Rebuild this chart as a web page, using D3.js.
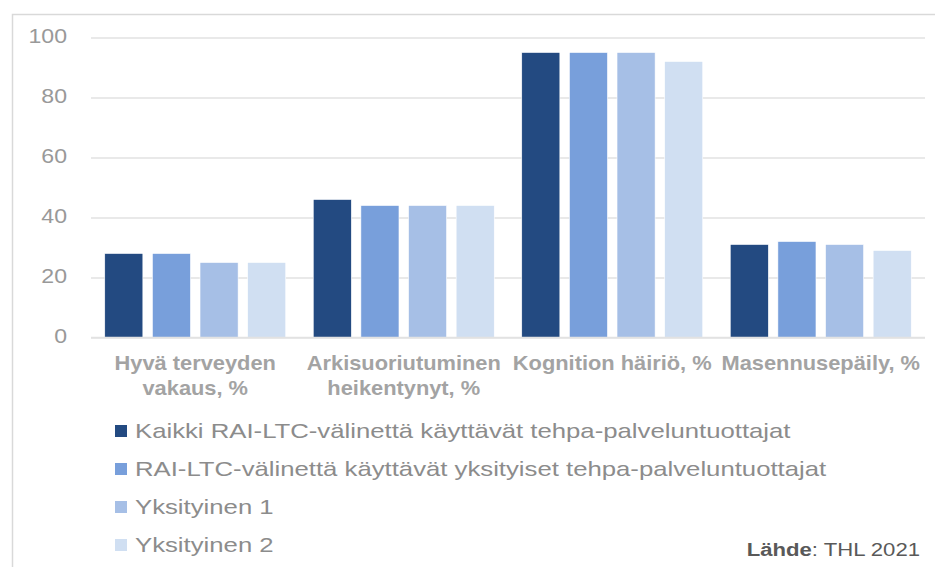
<!DOCTYPE html>
<html><head><meta charset="utf-8">
<script src="https://cdn.jsdelivr.net/npm/d3@7"></script>
<style>
html,body{margin:0;padding:0;background:#fff;}
svg{display:block;font-family:Arial,"Liberation Sans",sans-serif;}
</style></head>
<body><svg id="chart" width="935" height="567"></svg>
<script>
const categories = ["Hyvä terveyden vakaus, %", "Arkisuoriutuminen heikentynyt, %", "Kognition häiriö, %", "Masennusepäily, %"];
const categoryLines = [["Hyvä terveyden", "vakaus, %"], ["Arkisuoriutuminen", "heikentynyt, %"], ["Kognition häiriö, %"], ["Masennusepäily, %"]];
const seriesNames = ["Kaikki RAI-LTC-välinettä käyttävät tehpa-palveluntuottajat", "RAI-LTC-välinettä käyttävät yksityiset tehpa-palveluntuottajat", "Yksityinen 1", "Yksityinen 2"];
const seriesColors = ["#234a81", "#789fdb", "#a6bfe6", "#d0dff2"];
const kaikki = [28, 46, 95, 31];
const yksityiset = [28, 44, 95, 32];
const yksityinen1 = [25, 44, 95, 31];
const yksityinen2 = [25, 44, 92, 29];
const yTicks = [0, 20, 40, 60, 80, 100];
const seriesValues = [kaikki, yksityiset, yksityinen1, yksityinen2];

const svg = d3.select("#chart");
// outer frame
svg.append("rect").attr("x", 12.5).attr("y", 14.5).attr("width", 940).attr("height", 570)
  .attr("fill", "none").attr("stroke", "#d9d9d9").attr("stroke-width", 1.5);

const plot = {left: 91, right: 925, top: 37.5, bottom: 337.5};
const y = d3.scaleLinear().domain([0, 100]).range([plot.bottom, plot.top]);
const x0 = d3.scaleBand().domain(categories).range([plot.left, plot.right]).paddingInner(0).paddingOuter(0);
const x1 = d3.scaleBand().domain(d3.range(seriesNames.length)).range([13.75, x0.bandwidth() - 13.75]).paddingInner(0.2).paddingOuter(0);

// gridlines
const yAxis = d3.axisLeft(y).tickValues(yTicks).tickSize(-(plot.right - plot.left)).tickFormat(() => "");
const gy = svg.append("g").attr("transform", `translate(${plot.left},0)`).call(yAxis);
gy.select(".domain").remove();
gy.selectAll(".tick line").attr("stroke", "#e2e2e2").attr("stroke-width", 1.5);
// tick labels (horizontally widened like the original)
gy.selectAll(".tick").append("text").attr("class", "lbl")
  .attr("transform", "translate(-24,4.5) scale(1.1,1)")
  .attr("text-anchor", "end").attr("fill", "#999999").attr("font-size", 21)
  .attr("font-family", "Arial, 'Liberation Sans', sans-serif")
  .text(d => d);

// bars
const groups = svg.append("g").selectAll("g").data(categories).join("g")
  .attr("transform", d => `translate(${x0(d)},0)`);
groups.selectAll("rect").data((d, ci) => seriesValues.map((vals, si) => ({si, v: vals[ci]})))
  .join("rect")
  .attr("x", d => x1(d.si)).attr("width", x1.bandwidth())
  .attr("y", d => y(d.v)).attr("height", d => y(0) - y(d.v))
  .attr("fill", d => seriesColors[d.si])
  .attr("stroke", "#ffffff").attr("stroke-width", 0.6);

// baseline
svg.append("line").attr("x1", plot.left).attr("x2", plot.right).attr("y1", y(0)).attr("y2", y(0))
  .attr("stroke", "#e2e2e2").attr("stroke-width", 1.5);

// category labels
categories.forEach((c, i) => {
  categoryLines[i].forEach((ln, k) => {
    svg.append("text").attr("text-anchor", "middle")
      .attr("transform", `translate(${x0(c) + x0.bandwidth() / 2},${370 + k * 25}) scale(1.04,1)`)
      .attr("font-size", 21).attr("font-weight", "bold").attr("fill", "#a3a3a3").text(ln);
  });
});

// legend
const leg = svg.append("g");
seriesNames.forEach((s, i) => {
  const cy = 431 + i * 38;
  leg.append("rect").attr("x", 115).attr("y", cy - 6).attr("width", 12).attr("height", 12).attr("fill", seriesColors[i]);
  leg.append("text").attr("transform", `translate(135,${cy + 6.5}) scale(1.225,1)`)
    .attr("font-size", 21).attr("fill", "#8c8c8c").text(s);
});

// source
const src = svg.append("text").attr("transform", "translate(920,556) scale(1.23,1)").attr("text-anchor", "end")
  .attr("font-size", 18).attr("fill", "#595959");
src.append("tspan").attr("font-weight", "bold").text("Lähde");
src.append("tspan").text(": THL 2021");
</script></body></html>
